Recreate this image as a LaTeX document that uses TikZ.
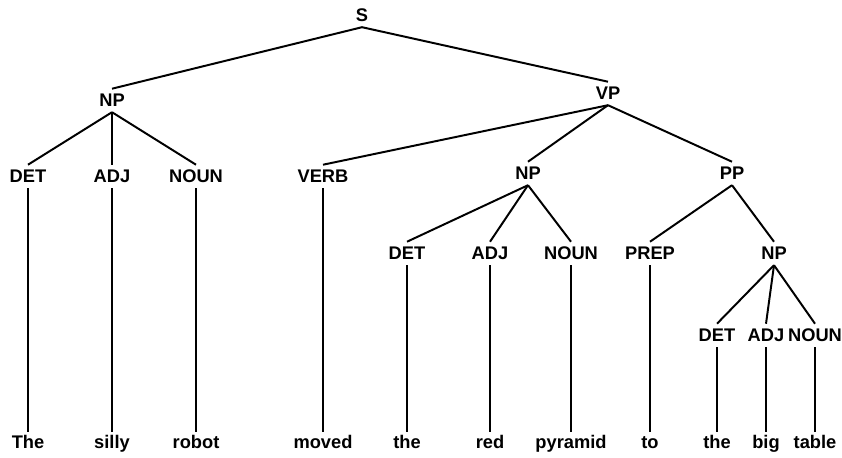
\documentclass[tikz,border=0pt]{standalone}
\usepackage{fontspec}
\setmainfont{Liberation Sans}
\usetikzlibrary{positioning}

\begin{document}
\begin{tikzpicture}[
    x=0.025cm, y=-0.025cm,
    cat/.style={font=\fontsize{13}{15}\selectfont\bfseries, text height=9.3pt, text depth=0pt, inner sep=3.5pt, anchor=base},
    word/.style={font=\fontsize{13}{15}\selectfont\bfseries, text height=9.8pt, text depth=2.5pt, inner sep=1.5pt, anchor=base},
    branch/.style={line width=1.4pt},
]

\useasboundingbox (0,0) rectangle (842,458);

% Root and phrases
\node[cat] (s) at (362,22) {S};
\node[cat] (np1) at (112,107) {NP};
\node[cat] (vp) at (608,100) {VP};
\node[cat] (np2) at (528,180) {NP};
\node[cat] (pp) at (732,180) {PP};
\node[cat] (np3) at (774,260) {NP};

% Word classes
\node[cat] (det1) at (28,183) {DET};
\node[cat] (adj1) at (112,183) {ADJ};
\node[cat] (noun1) at (196,183) {NOUN};
\node[cat] (verb) at (323,183) {VERB};
\node[cat] (det2) at (407,260) {DET};
\node[cat] (adj2) at (490,260) {ADJ};
\node[cat] (noun2) at (571,260) {NOUN};
\node[cat] (prep) at (650,260) {PREP};
\node[cat] (det3) at (717,342) {DET};
\node[cat] (adj3) at (766,342) {ADJ};
\node[cat] (noun3) at (815,342) {NOUN};

% Sentence
\node[word] (the1) at (28,448) {The};
\node[word] (silly) at (112,448) {silly};
\node[word] (robot) at (196,448) {robot};
\node[word] (moved) at (323,448) {moved};
\node[word] (the2) at (407,448) {the};
\node[word] (red) at (490,448) {red};
\node[word] (pyramid) at (571,448) {pyramid};
\node[word] (to) at (650,448) {to};
\node[word] (the3) at (717,448) {the};
\node[word] (big) at (766,448) {big};
\node[word] (table) at (815,448) {table};

% Branches
\draw[branch] (s.south) -- (np1.north);
\draw[branch] (s.south) -- (vp.north);
\draw[branch] (np1.south) -- (det1.north);
\draw[branch] (np1.south) -- (adj1.north);
\draw[branch] (np1.south) -- (noun1.north);
\draw[branch] (vp.south) -- (verb.north);
\draw[branch] (vp.south) -- (np2.north);
\draw[branch] (vp.south) -- (pp.north);
\draw[branch] (np2.south) -- (det2.north);
\draw[branch] (np2.south) -- (adj2.north);
\draw[branch] (np2.south) -- (noun2.north);
\draw[branch] (pp.south) -- (prep.north);
\draw[branch] (pp.south) -- (np3.north);
\draw[branch] (np3.south) -- (det3.north);
\draw[branch] (np3.south) -- (adj3.north);
\draw[branch] (np3.south) -- (noun3.north);

% Leaves
\draw[branch] (det1.south) -- (the1.north);
\draw[branch] (adj1.south) -- (silly.north);
\draw[branch] (noun1.south) -- (robot.north);
\draw[branch] (verb.south) -- (moved.north);
\draw[branch] (det2.south) -- (the2.north);
\draw[branch] (adj2.south) -- (red.north);
\draw[branch] (noun2.south) -- (pyramid.north);
\draw[branch] (prep.south) -- (to.north);
\draw[branch] (det3.south) -- (the3.north);
\draw[branch] (adj3.south) -- (big.north);
\draw[branch] (noun3.south) -- (table.north);

\end{tikzpicture}
\end{document}
